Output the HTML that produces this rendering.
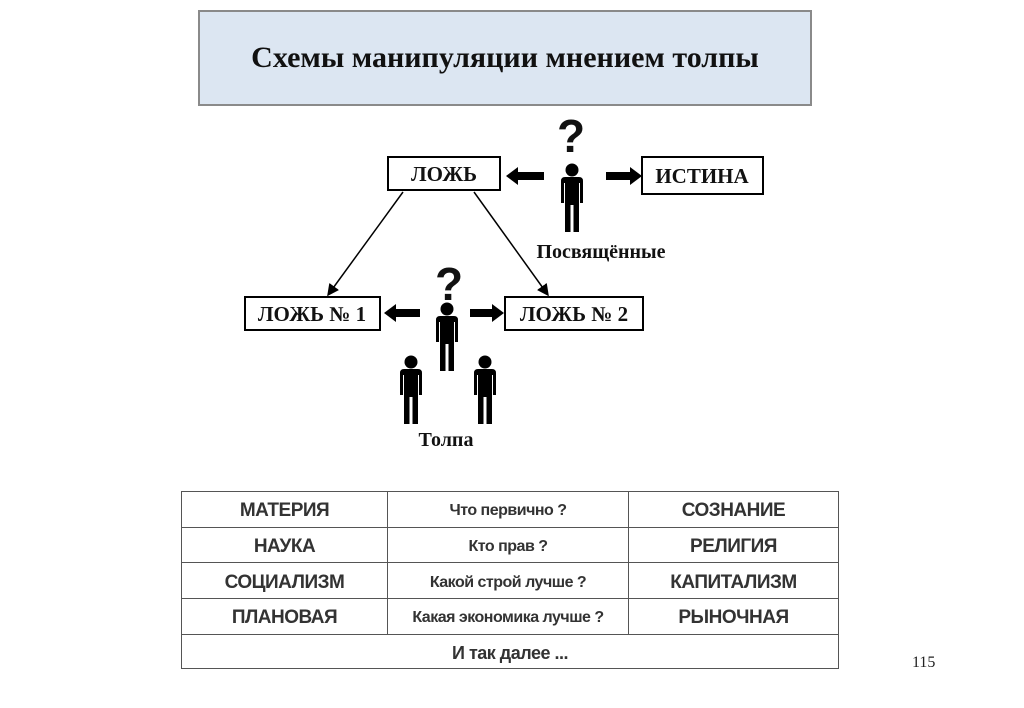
<!DOCTYPE html>
<html><head><meta charset="utf-8"><style>
body{margin:0;background:#fff;width:1024px;height:708px;overflow:hidden;position:relative;font-family:"Liberation Serif",serif}
.title{position:absolute;left:198px;top:10px;width:610px;height:92px;background:#dce6f2;border:2px solid #8a8a8a;display:flex;align-items:center;justify-content:center;font-weight:bold;font-size:30px;color:#111}
.pg{position:absolute;left:912px;top:654px;font-size:16px;color:#222}
table{position:absolute;left:181px;top:491px;width:658px;height:178px;border-collapse:collapse;font-family:"Liberation Sans",sans-serif;font-weight:bold;color:#333}
td{border:1.5px solid #555;text-align:center;padding:4px 0 0 0;font-size:19px;letter-spacing:-0.5px}
td.m{font-size:16px}
</style></head><body>
<div class="title">Схемы манипуляции мнением толпы</div>
<svg width="1024" height="708" style="position:absolute;left:0;top:0" font-family="Liberation Serif, serif" font-weight="bold">
<defs>
<g id="p">
<circle cx="12" cy="6" r="6.5" fill="#000"/>
<path d="M1 17 Q1 13 5 13 L19 13 Q23 13 23 17 L23 39 L20 39 L20 19 L19 19 L19 68 L13.5 68 L13.5 41 L10.5 41 L10.5 68 L5 68 L5 19 L4 19 L4 39 L1 39 Z" fill="#000"/>
</g>
<marker id="ah" markerWidth="8" markerHeight="8" refX="7" refY="4" orient="auto"><path d="M0 0 L8 4 L0 8 Z" fill="#000"/></marker>
</defs>
<g fill="#fff" stroke="#000" stroke-width="2">
<rect x="388" y="157" width="112" height="33"/>
<rect x="642" y="157" width="121" height="37"/>
<rect x="245" y="297" width="135" height="33"/>
<rect x="505" y="297" width="138" height="33"/>
</g>
<g font-size="21" text-anchor="middle" fill="#111">
<text x="444" y="181">ЛОЖЬ</text>
<text x="702" y="183">ИСТИНА</text>
<text x="312" y="321">ЛОЖЬ № 1</text>
<text x="574" y="321">ЛОЖЬ № 2</text>
<text x="601" y="258" font-size="20">Посвящённые</text>
<text x="446" y="446" font-size="20">Толпа</text>
<text x="571" y="152" font-size="46" font-family="Liberation Sans, sans-serif">?</text>
<text x="449" y="300" font-size="46" font-family="Liberation Sans, sans-serif">?</text>
</g>
<g stroke="#000" stroke-width="1.5" marker-end="url(#ah)">
<line x1="403" y1="192" x2="328" y2="295"/>
<line x1="474" y1="192" x2="548" y2="295"/>
</g>
<g fill="#000">
<path d="M544 172 L518 172 L518 167 L506 176 L518 185 L518 180 L544 180 Z"/>
<path d="M606 172 L630 172 L630 167 L642 176 L630 185 L630 180 L606 180 Z"/>
<path d="M420 309 L396 309 L396 304 L384 313 L396 322 L396 317 L420 317 Z"/>
<path d="M470 309 L492 309 L492 304 L504 313 L492 322 L492 317 L470 317 Z"/>
</g>
<use href="#p" x="560" y="164"/>
<use href="#p" x="435" y="303"/>
<use href="#p" x="399" y="356"/>
<use href="#p" x="473" y="356"/>
</svg>
<table>
<tr><td style="width:205px">МАТЕРИЯ</td><td class="m" style="width:240px">Что первично ?</td><td>СОЗНАНИЕ</td></tr>
<tr><td>НАУКА</td><td class="m">Кто прав ?</td><td>РЕЛИГИЯ</td></tr>
<tr><td>СОЦИАЛИЗМ</td><td class="m">Какой строй лучше ?</td><td>КАПИТАЛИЗМ</td></tr>
<tr><td>ПЛАНОВАЯ</td><td class="m">Какая экономика лучше ?</td><td>РЫНОЧНАЯ</td></tr>
<tr><td colspan="3" style="font-size:18px">И так далее ...</td></tr>
</table>
<div class="pg">115</div>
</body></html>
